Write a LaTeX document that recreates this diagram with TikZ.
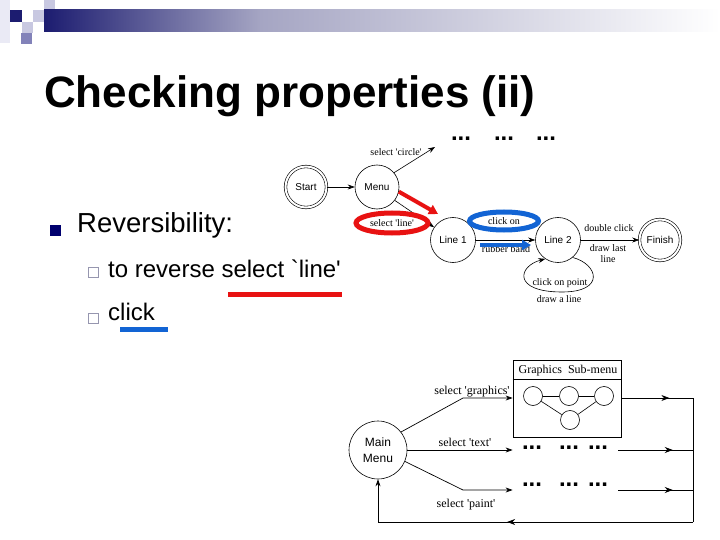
\documentclass[tikz,border=0pt]{standalone}
\usepackage{fontspec}
\setmainfont{Liberation Serif}
\setsansfont{Liberation Sans}
\usetikzlibrary{positioning, arrows.meta, shapes.geometric, decorations.markings}

\definecolor{hdnavy}{RGB}{28,28,112}
\definecolor{hdmid}{RGB}{130,130,185}
\definecolor{hdlight}{RGB}{200,200,225}
\definecolor{hdpale}{RGB}{234,234,245}
\definecolor{hdgray}{RGB}{165,165,195}
\definecolor{bulletnavy}{RGB}{0,0,110}
\definecolor{bulletgray}{RGB}{150,150,175}
\definecolor{annred}{RGB}{232,18,18}
\definecolor{annblue}{RGB}{18,100,212}

\newcommand{\sq}{\textquotesingle}

\begin{document}
\begin{tikzpicture}[
  x=1pt, y=-1pt,
  every node/.style = {align=center, inner sep=0pt},
  state/.style = {draw, circle, line width=0.6pt, minimum size=45pt, font=\sffamily\fontsize{10}{12}\selectfont},
  final/.style = {state, double, double distance=2pt, minimum size=41pt},
  lbl/.style = {font=\fontsize{10}{11}\selectfont},
  biglbl/.style = {font=\fontsize{12}{14}\selectfont},
  dots/.style = {font=\sffamily\bfseries\fontsize{24}{24}\selectfont},
  sub/.style = {draw, circle, line width=0.6pt, minimum size=19pt},
  ring/.style = {draw=#1, ellipse, line width=5pt},
  arrow/.style = {-{Stealth[length=7pt, width=5pt]}, line width=0.6pt},
  midarrow/.style = {line width=0.7pt, postaction={decorate},
    decoration={markings, mark=at position #1 with {\arrow{Stealth[length=8pt, width=6pt]}}}},
  fatarrow/.style = {-{Triangle[length=9pt, width=10pt]}, line width=4pt, #1}
]
\useasboundingbox (0,0) rectangle (720,540);
\fill[white] (0,0) rectangle (720,540);

% --- header
\fill[hdpale] (0,0) rectangle (10,43);
\fill[hdlight] (44,0) rectangle (55,10);
\fill[hdnavy] (10,10) rectangle (22,22);
\fill[hdlight] (33,10) rectangle (44,22);
\fill[hdlight] (22,22) rectangle (33,33);
\fill[hdmid] (21,33) rectangle (32,44);
\shade[left color=hdnavy, right color=hdgray] (44,10) rectangle (260,32);
\shade[left color=hdgray, right color=white] (260,10) rectangle (720,32);

% --- title and bullets
\node[anchor=base west, font=\sffamily\bfseries\fontsize{44}{50}\selectfont] (title) at (44,108) {Checking properties (ii)};
\node[fill=bulletnavy, minimum size=11pt] (b1) at (55.5,230.5) {};
\node[anchor=base west, font=\sffamily\fontsize{27.5}{32}\selectfont] (rev) at (77,233) {Reversibility:};
\node[draw=bulletgray, line width=1pt, minimum size=10pt] (b2) at (93.5,272.5) {};
\node[anchor=base west, font=\sffamily\fontsize{24}{28}\selectfont] (rev1) at (108,277) {to reverse select \textasciigrave line\sq};
\node[draw=bulletgray, line width=1pt, minimum size=10pt] (b3) at (93.5,318.5) {};
\node[anchor=base west, font=\sffamily\fontsize{24}{28}\selectfont] (rev2) at (108,320) {click};
\draw[annred, line width=5pt] (228,294) -- (342,294);
\draw[annblue, line width=5pt] (120,329) -- (168,329);

% --- drawing program states
\node[final] (start) at (306,187) {Start};
\node[state, minimum size=44pt] (menu) at (377,187) {Menu};
\node[state] (line1) at (453,240) {Line 1};
\node[state] (line2) at (558,240) {Line 2};
\node[final] (finish) at (660,240) {Finish};
\coordinate (circtip) at (435,147);
\coordinate (redtip) at (438,214);

\draw[arrow] (start) -- (menu);
\draw[arrow] (menu.40) -- (circtip);
\node[lbl] (lcirc) at (396,152) {select \sq circle\sq};
\draw[arrow] (menu.-37) -- (line1.146);
\draw[arrow] (line1) -- (line2);
\draw[arrow] (line2) -- (finish);
\coordinate (loopb) at (562,292);
\draw[arrow] (line2.-50) .. controls (598,264) and (606,292) .. (loopb)
  .. controls (512,292) and (518,266) .. (line2.-124);

\node[lbl] (lband) at (506,249) {rubber band};
\node[lbl] (ldbl) at (609,228) {double click};
\node[lbl] (llast) at (608,254) {draw last\\line};
\node[lbl] (lpoint) at (560,283) {click on point};
\node[lbl] (ldraw) at (559,299) {draw a line};

\node[dots] (d1) at (461,139) {...};
\node[dots] (d2) at (504,139) {...};
\node[dots] (d3) at (546,139) {...};

% --- marks
\node[lbl, ring=annred, minimum width=72pt, minimum height=20pt] (sline) at (392,223) {select \sq line\sq};
\node[lbl, ring=annblue, minimum width=69pt, minimum height=18pt] (clickon) at (504,221) {click on};
\draw[fatarrow=annred] (menu.-12) -- (redtip);
\coordinate (bluea) at (480,245);
\coordinate (blueb) at (531,245);
\draw[fatarrow=annblue] (bluea) -- (blueb);

% --- main menu
\node[state, minimum size=58pt, font=\sffamily\fontsize{12}{16}\selectfont] (mainmenu) at (378,450) {Main\\Menu};
\node[draw, line width=0.8pt, minimum width=108pt, minimum height=77pt] (gbox) at (567,399) {};
\draw[line width=0.6pt] ([yshift=-19pt]gbox.north west) -- ([yshift=-19pt]gbox.north east);
\node[biglbl] (gtitle) at (568,371) {Graphics\enspace Sub-menu};
\node[sub] (g1) at (533,396) {};
\node[sub] (g2) at (569,396) {};
\node[sub] (g3) at (604,396) {};
\node[sub] (g4) at (570,420) {};
\draw[line width=0.6pt] (g1) -- (g2) -- (g3);
\draw[line width=0.6pt] (g1) -- (g4) -- (g3);

\coordinate (gbend) at (463,398);
\coordinate (pbend) at (463,490);
\draw[arrow, line width=0.7pt] (mainmenu.38) -- (gbend) -- (gbend -| gbox.west);
\draw[arrow, line width=0.7pt] (mainmenu.east) -- (mainmenu.east -| gbox.west);
\draw[arrow, line width=0.7pt] (mainmenu.-23) -- (pbend) -- (pbend -| gbox.west);
\node[biglbl] (lgraph) at (472,392) {select \sq graphics\sq};
\node[biglbl] (ltext) at (465,442) {select \sq text\sq};
\node[biglbl] (lpaint) at (466,505) {select \sq paint\sq};

\node[dots] (t1) at (532,448) {...};
\node[dots] (t2) at (569,448) {...};
\node[dots] (t3) at (598,448) {...};
\node[dots] (p1) at (532,485) {...};
\node[dots] (p2) at (569,485) {...};
\node[dots] (p3) at (598,485) {...};

\coordinate (rtop) at (693,398);
\coordinate (rbot) at (693,522);
\coordinate (lbot) at (378,522);
\coordinate (tout) at (618,450);
\coordinate (pout) at (618,490);
\draw[midarrow=0.67] (gbox.east |- rtop) -- (rtop);
\draw[midarrow=0.73] (tout) -- (tout -| rtop);
\draw[midarrow=0.73] (pout) -- (pout -| rtop);
\draw[line width=0.7pt] (rtop) -- (rbot);
\draw[midarrow=0.59] (rbot) -- (lbot);
\draw[arrow, line width=0.7pt] (lbot) -- (mainmenu.south);

\end{tikzpicture}
\end{document}
